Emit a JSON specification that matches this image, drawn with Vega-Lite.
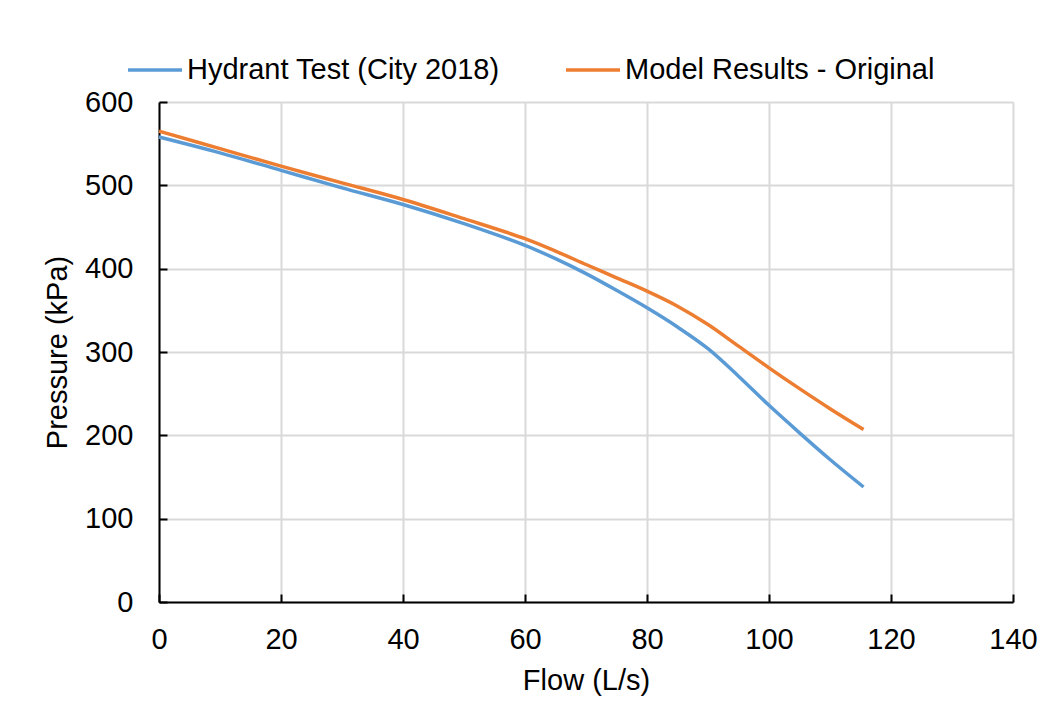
{
  "$schema": "https://vega.github.io/schema/vega-lite/v6.json",
  "width": 854,
  "height": 500,
  "autosize": {"type": "none"},
  "padding": {"left": 159, "top": 102, "right": 44, "bottom": 123},
  "background": "white",
  "config": {
    "font": "Liberation Sans",
    "view": {"stroke": null},
    "axis": {
      "labelFont": "Liberation Sans",
      "titleFont": "Liberation Sans",
      "labelFontSize": 29,
      "titleFontSize": 29,
      "labelColor": "#000000",
      "titleColor": "#000000",
      "titleFontWeight": "normal",
      "domainColor": "#000000",
      "domainWidth": 2,
      "tickColor": "#000000",
      "tickWidth": 2,
      "tickSize": -8,
      "gridColor": "#D9D9D9",
      "gridWidth": 2
    },
    "legend": {
      "labelFont": "Liberation Sans",
      "labelFontSize": 29,
      "labelColor": "#000000",
      "labelLimit": 0
    }
  },
  "data": {
    "values": [
      {"series": "Hydrant Test (City 2018)", "flow": 0, "pressure": 558},
      {"series": "Hydrant Test (City 2018)", "flow": 10, "pressure": 539},
      {"series": "Hydrant Test (City 2018)", "flow": 20, "pressure": 518},
      {"series": "Hydrant Test (City 2018)", "flow": 30, "pressure": 497},
      {"series": "Hydrant Test (City 2018)", "flow": 40, "pressure": 477},
      {"series": "Hydrant Test (City 2018)", "flow": 50, "pressure": 454},
      {"series": "Hydrant Test (City 2018)", "flow": 60, "pressure": 428},
      {"series": "Hydrant Test (City 2018)", "flow": 65, "pressure": 412},
      {"series": "Hydrant Test (City 2018)", "flow": 70, "pressure": 394},
      {"series": "Hydrant Test (City 2018)", "flow": 75, "pressure": 374},
      {"series": "Hydrant Test (City 2018)", "flow": 80, "pressure": 353},
      {"series": "Hydrant Test (City 2018)", "flow": 85, "pressure": 330},
      {"series": "Hydrant Test (City 2018)", "flow": 90, "pressure": 304},
      {"series": "Hydrant Test (City 2018)", "flow": 95, "pressure": 271},
      {"series": "Hydrant Test (City 2018)", "flow": 100, "pressure": 236},
      {"series": "Hydrant Test (City 2018)", "flow": 105, "pressure": 203},
      {"series": "Hydrant Test (City 2018)", "flow": 110, "pressure": 171},
      {"series": "Hydrant Test (City 2018)", "flow": 115.5, "pressure": 138},
      {"series": "Model Results - Original", "flow": 0, "pressure": 565},
      {"series": "Model Results - Original", "flow": 10, "pressure": 544},
      {"series": "Model Results - Original", "flow": 20, "pressure": 523},
      {"series": "Model Results - Original", "flow": 30, "pressure": 503},
      {"series": "Model Results - Original", "flow": 40, "pressure": 483},
      {"series": "Model Results - Original", "flow": 50, "pressure": 460},
      {"series": "Model Results - Original", "flow": 60, "pressure": 436},
      {"series": "Model Results - Original", "flow": 65, "pressure": 421},
      {"series": "Model Results - Original", "flow": 70, "pressure": 405},
      {"series": "Model Results - Original", "flow": 75, "pressure": 389},
      {"series": "Model Results - Original", "flow": 80, "pressure": 373},
      {"series": "Model Results - Original", "flow": 85, "pressure": 355},
      {"series": "Model Results - Original", "flow": 90, "pressure": 333},
      {"series": "Model Results - Original", "flow": 95, "pressure": 307},
      {"series": "Model Results - Original", "flow": 100, "pressure": 281},
      {"series": "Model Results - Original", "flow": 105, "pressure": 256},
      {"series": "Model Results - Original", "flow": 110, "pressure": 232},
      {"series": "Model Results - Original", "flow": 115.5, "pressure": 207}
    ]
  },
  "mark": {"type": "line", "interpolate": "catmull-rom", "strokeWidth": 3.5},
  "encoding": {
    "x": {
      "field": "flow",
      "type": "quantitative",
      "scale": {"domain": [0, 140], "nice": false, "zero": true},
      "axis": {
        "title": "Flow (L/s)",
        "values": [0, 20, 40, 60, 80, 100, 120, 140],
        "labelPadding": 31,
        "titlePadding": 12,
        "labelFlush": false,
        "labelOverlap": false
      }
    },
    "y": {
      "field": "pressure",
      "type": "quantitative",
      "scale": {"domain": [0, 600], "nice": false},
      "axis": {
        "title": "Pressure (kPa)",
        "values": [0, 100, 200, 300, 400, 500, 600],
        "labelPadding": 34,
        "titlePadding": 12,
        "labelFlush": false,
        "labelOverlap": false
      }
    },
    "color": {
      "field": "series",
      "type": "nominal",
      "scale": {
        "domain": ["Hydrant Test (City 2018)", "Model Results - Original"],
        "range": ["#5B9BD5", "#ED7D31"]
      },
      "legend": {
        "title": null,
        "orient": "none",
        "direction": "horizontal",
        "legendX": -33,
        "legendY": -61,
        "symbolType": "stroke",
        "symbolSize": 2916,
        "symbolStrokeWidth": 3.5,
        "labelOffset": 3,
        "columnPadding": 59,
        "padding": 0
      }
    }
  }
}
